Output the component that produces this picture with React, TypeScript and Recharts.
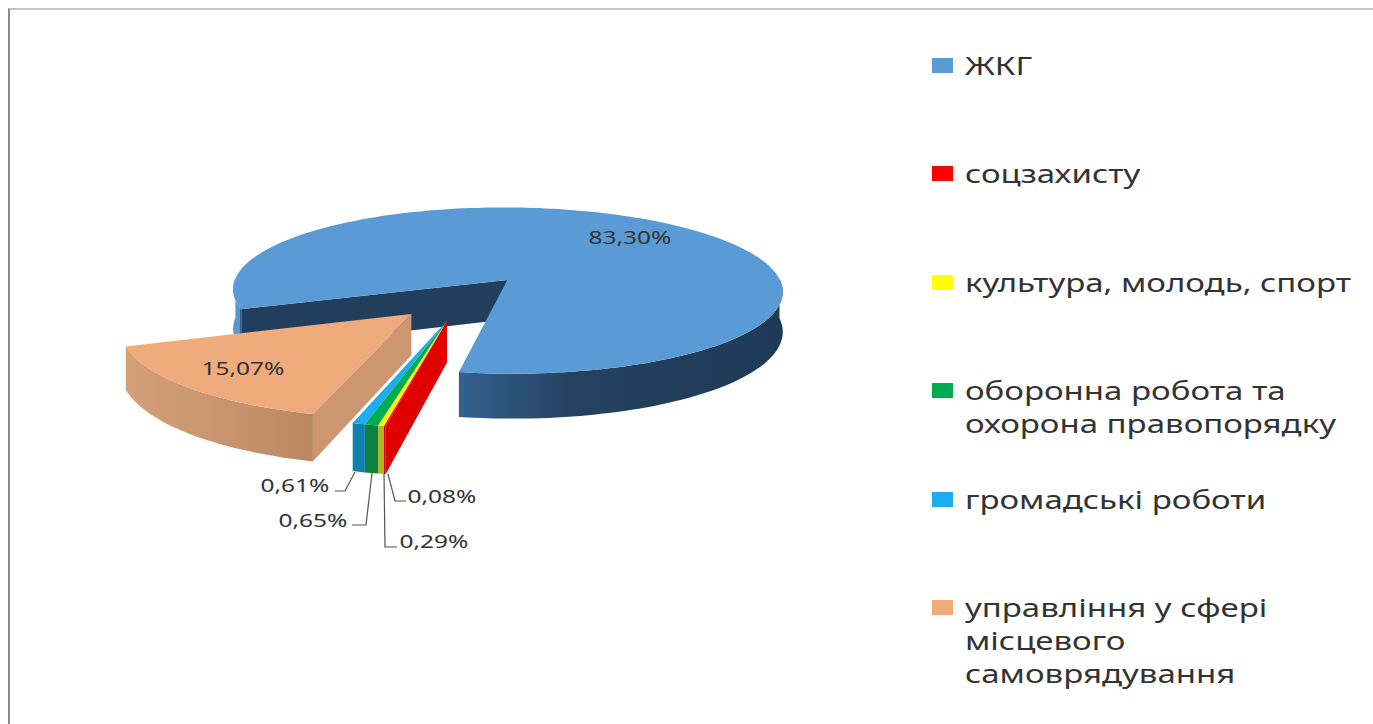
import React from "react"
import { Legend, Pie, PieChart } from "recharts"

const categories = [
  "ЖКГ",
  "соцзахисту",
  "культура, молодь, спорт",
  "оборонна робота та охорона правопорядку",
  "громадські роботи",
  "управління у сфері місцевого самоврядування",
]
const shares = [83.3, 0.08, 0.29, 0.65, 0.61, 15.07]
const shareLabels = ["83,30%", "0,08%", "0,29%", "0,65%", "0,61%", "15,07%"]
const topColors = ["#5B9BD5", "#FF0000", "#FFFF00", "#00AC50", "#1CADEC", "#EFAB7C"]
const arcWallColors = ["url(#blueWall)", "#D00000", "#B5B51E", "#0E8040", "#0F7FB0", "url(#orangeWall)"]
const edgeWallColors = ["#213E5C", "#E00000", null, null, null, "#CC9670"]

// how far each slice is pulled out of the pie, in radii (sideways, depth)
const explodeSide = [0.128, -0.088, -0.088, -0.088, -0.088, -0.213]
const explodeDepth = [0.154, -0.315, -0.315, -0.315, -0.315, -0.24]

const CX = 472.5
const CY = 292.8
const RADIUS = 278
const TILT = 0.306
const PERSPECTIVE = 0.13
const WALL = 0.144

// label spots: text centre, then the elbow of the leader if it has one
const labelSpots = [
  { x: 630, y: 237 },
  { x: 442, y: 496, elbow: [[395, 501], [406, 501]], from: [388, 474] },
  { x: 434, y: 541, elbow: [[385, 547], [397, 547]], from: [384, 474] },
  { x: 313, y: 520, elbow: [[366, 525], [352, 525]], from: [372, 473] },
  { x: 295, y: 485, elbow: [[345, 491], [335, 491]], from: [355, 472] },
  { x: 243, y: 368 },
]

const chartData = categories.map((name, i) => ({ name, value: shares[i], fill: topColors[i] }))

function project(side: number, depth: number, z: number) {
  const s = 1 / (1 + PERSPECTIVE * depth)
  return [CX + side * RADIUS * s, CY - depth * RADIUS * TILT * s + z * RADIUS * WALL * s]
}

const toPath = (pts: number[][]) => "M" + pts.map((p) => `${p[0].toFixed(1)},${p[1].toFixed(1)}`).join("L") + "Z"

function SliceShape(props: any) {
  const i = categories.indexOf(props.name ?? props.payload?.name)
  const from = 90 - props.startAngle
  const to = 90 - props.endAngle
  const ex = explodeSide[i]
  const ed = explodeDepth[i]

  const rim = (deg: number, z: number) => {
    const a = (deg * Math.PI) / 180
    return project(ex + Math.sin(a), ed + Math.cos(a), z)
  }
  const apex = (z: number) => project(ex, ed, z)

  const angles: number[] = []
  const steps = Math.max(2, Math.ceil((to - from) / 1.5))
  for (let k = 0; k <= steps; k++) angles.push(from + ((to - from) * k) / steps)

  // outer wall only where the rim faces the viewer
  const runs: number[][] = []
  let run: number[] = []
  angles.forEach((deg) => {
    if (Math.cos((deg * Math.PI) / 180) < 0.02) run.push(deg)
    else if (run.length) {
      runs.push(run)
      run = []
    }
  })
  if (run.length) runs.push(run)

  return (
    <g>
      {edgeWallColors[i] && (
        <path d={toPath([apex(0), rim(from, 0), rim(from, 1), apex(1)])} fill={edgeWallColors[i] as string} />
      )}
      {runs.map((r, k) => (
        <path
          key={k}
          d={toPath([...r.map((deg) => rim(deg, 0)), ...[...r].reverse().map((deg) => rim(deg, 1))])}
          fill={arcWallColors[i]}
        />
      ))}
      <path d={toPath([apex(0), ...angles.map((deg) => rim(deg, 0))])} fill={props.fill} />
    </g>
  )
}

function SliceLabel(props: any) {
  const spot: any = labelSpots[props.index]
  return (
    <g>
      {spot.elbow && (
        <polyline
          points={[spot.from, ...spot.elbow].map((p: number[]) => p.join(",")).join(" ")}
          fill="none"
          stroke="#555"
          strokeWidth={1.2}
        />
      )}
      <text
        transform={`translate(${spot.x},${spot.y}) scale(1.36,1)`}
        textAnchor="middle"
        dominantBaseline="central"
        fontFamily="'Noto Sans', sans-serif"
        fontSize={18}
        fill="#333"
      >
        {shareLabels[props.index]}
      </text>
    </g>
  )
}

function LegendList({ payload }: any) {
  return (
    <div style={{ fontFamily: "'Noto Sans', sans-serif", fontSize: 25, lineHeight: "33px", color: "#333" }}>
      {(payload || []).map((item: any) => (
        <div key={item.value} style={{ height: 108.4, position: "relative" }}>
          <div style={{ position: "absolute", left: 0, top: 9, width: 21, height: 15, background: item.color }} />
          <div
            style={{
              position: "absolute",
              left: 33,
              top: 0,
              width: 395 / 1.32,
              transform: "scaleX(1.32)",
              transformOrigin: "left top",
            }}
          >
            {item.value}
          </div>
        </div>
      ))}
    </div>
  )
}

export default function App() {
  return (
    <div style={{ position: "absolute", left: 0, top: 0, width: 1373, height: 724, overflow: "hidden", background: "#fff" }}>
      <div
        style={{
          position: "absolute",
          left: 8,
          top: 8,
          right: 0,
          bottom: 0,
          borderTop: "2px solid #c4c4c4",
          borderLeft: "2px solid #8a8a8a",
        }}
      />
      <div style={{ position: "absolute", left: 0, top: 0 }}>
        <PieChart width={1373} height={724} margin={{ top: 0, right: 0, bottom: 0, left: 0 }}>
          <defs>
            <linearGradient id="blueWall" gradientUnits="userSpaceOnUse" x1={232} y1={0} x2={780} y2={0}>
              <stop offset="0%" stopColor="#5A94CC" />
              <stop offset="1.4%" stopColor="#5A94CC" />
              <stop offset="1.5%" stopColor="#34628F" />
              <stop offset="41%" stopColor="#34628F" />
              <stop offset="62%" stopColor="#24425F" />
              <stop offset="100%" stopColor="#1F3A56" />
            </linearGradient>
            <linearGradient id="orangeWall" gradientUnits="userSpaceOnUse" x1={124} y1={0} x2={316} y2={0}>
              <stop offset="0%" stopColor="#D3A07A" />
              <stop offset="55%" stopColor="#C8946E" />
              <stop offset="100%" stopColor="#BA8762" />
            </linearGradient>
          </defs>
          <Pie
            data={chartData}
            dataKey="value"
            nameKey="name"
            cx={CX}
            cy={CY}
            outerRadius={RADIUS}
            innerRadius={0}
            startAngle={-160}
            endAngle={-520}
            stroke="none"
            label={SliceLabel}
            labelLine={false}
            shape={SliceShape}
            isAnimationActive={false}
          />
          <Legend
            content={LegendList}
            itemSorter={null}
            layout="vertical"
            align="right"
            verticalAlign="top"
            wrapperStyle={{ position: "absolute", left: 932, top: 49, width: 440 }}
          />
        </PieChart>
      </div>
    </div>
  )
}
